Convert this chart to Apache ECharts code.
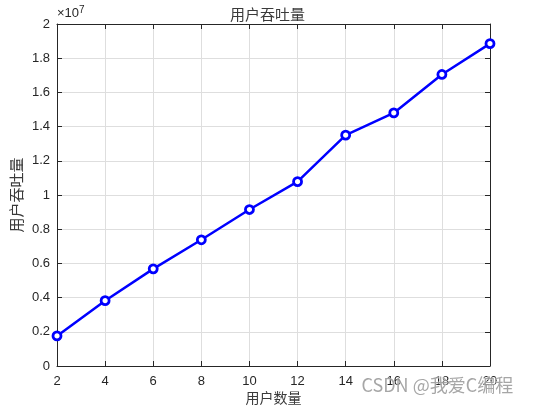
<!DOCTYPE html>
<html><head><meta charset="utf-8">
<script src="https://cdn.jsdelivr.net/npm/echarts@6/dist/echarts.min.js"></script>
<style>html,body{margin:0;padding:0;background:#fff}#c{width:535px;height:406px}</style>
</head><body><div id="c"></div>
<script>
const users = [2, 4, 6, 8, 10, 12, 14, 16, 18, 20];
const throughput = [1.76e6, 3.82e6, 5.68e6, 7.38e6, 9.15e6, 10.78e6, 13.5e6, 14.8e6, 17.05e6, 18.85e6];
const titleText = '用户吞吐量';
const xName = '用户数量';
const yName = '用户吞吐量';

const chart = echarts.init(document.getElementById('c'));
const txt = '#262626';
const soft = '#3a3a3a';
const lbl = {color: txt, fontSize: 13, fontFamily: 'Liberation Sans, Arial, sans-serif'};
const cjk = 'Noto Sans CJK SC';
chart.setOption({
  animation: false,
  backgroundColor: '#fff',
  title: {text: titleText, left: 'center', top: 2, textStyle: {color: soft, fontSize: 15, fontWeight: 'normal', fontFamily: cjk}},
  grid: {left: 57, right: 45, top: 24, bottom: 40, containLabel: false, outerBoundsMode: 'none'},
  xAxis: [{
    type: 'value', min: 2, max: 20, interval: 2,
    name: xName, nameLocation: 'middle', nameGap: 25, nameMoveOverlap: false,
    nameTextStyle: {color: soft, fontSize: 14, fontFamily: cjk},
    axisLine: {show: true, onZero: false, lineStyle: {color: txt, width: 1}},
    axisTick: {show: true, inside: true, length: 5, lineStyle: {color: txt}},
    axisLabel: Object.assign({margin: 9}, lbl),
    splitLine: {show: true, lineStyle: {color: '#dedede', width: 1}}
  }, {
    type: 'value', position: 'top', min: 2, max: 20, interval: 2,
    axisLine: {show: true, onZero: false, lineStyle: {color: txt, width: 1}},
    axisTick: {show: true, inside: true, length: 5, lineStyle: {color: txt}},
    axisLabel: {show: false}, splitLine: {show: false}
  }],
  yAxis: [{
    type: 'value', min: 0, max: 2e7, interval: 2e6,
    name: yName, nameLocation: 'middle', nameGap: 33, nameMoveOverlap: false,
    nameTextStyle: {color: soft, fontSize: 15, fontFamily: cjk},
    axisLine: {show: true, onZero: false, lineStyle: {color: txt, width: 1}},
    axisTick: {show: true, inside: true, length: 5, lineStyle: {color: txt}},
    axisLabel: Object.assign({margin: 7, formatter: v => String(parseFloat((v / 1e7).toFixed(1)))}, lbl),
    splitLine: {show: true, lineStyle: {color: '#dedede', width: 1}}
  }, {
    type: 'value', position: 'right', min: 0, max: 2e7, interval: 2e6,
    axisLine: {show: true, onZero: false, lineStyle: {color: txt, width: 1}},
    axisTick: {show: true, inside: true, length: 5, lineStyle: {color: txt}},
    axisLabel: {show: false}, splitLine: {show: false}
  }],
  series: [{
    type: 'line',
    data: users.map((u, i) => [u, throughput[i]]),
    lineStyle: {color: '#0000ff', width: 2.5},
    symbol: 'circle', symbolSize: 8,
    itemStyle: {color: '#ffffff', borderColor: '#0000ff', borderWidth: 2.8},
    z: 5
  }],
  graphic: [{
    type: 'text', left: 57, top: 5,
    style: {
      rich: {a: {fontSize: 13, fill: txt, fontFamily: 'Liberation Sans, Arial'}, b: {fontSize: 10, fill: txt, verticalAlign: 'top', padding: [0, 0, 7, 0], fontFamily: 'Liberation Sans, Arial'}},
      text: '{a|×10}{b|7}'
    }
  }, {
    type: 'text', left: 361, top: 376, z: 100,
    style: {text: 'CSDN @我爱C编程', fontSize: 18, fill: 'rgba(150,150,150,0.85)', fontFamily: cjk, stroke: 'rgba(255,255,255,0.6)', lineWidth: 1}
  }]
});
</script></body></html>
